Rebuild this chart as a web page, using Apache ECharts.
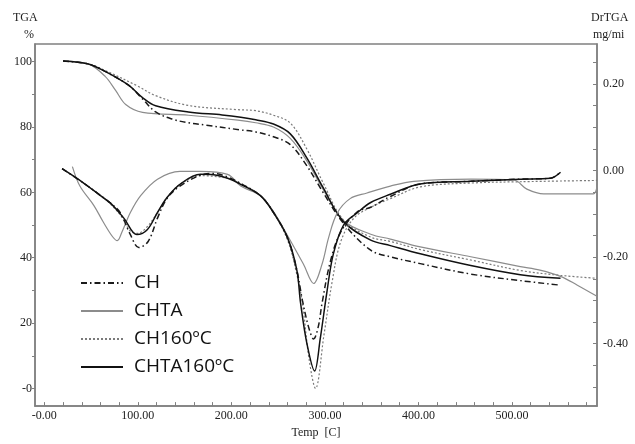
<!DOCTYPE html>
<html>
<head>
<meta charset="utf-8">
<script src="https://cdn.jsdelivr.net/npm/echarts@6/dist/echarts.min.js"></script>
<style>
html,body{margin:0;padding:0;background:#fff}
#chart{width:635px;height:444px}
</style>
</head>
<body>
<div id="chart"></div>
<script>
// Sample names
const nameCH = 'CH';
const nameCHTA = 'CHTA';
const nameCH160 = 'CH160ºC';
const nameCHTA160 = 'CHTA160ºC';

// Mass loss (TGA, %) against temperature (°C)
const tgaCH = [[20,100.2],[47,99.3],[65,97],[90,92.8],[105,88.6],[119,84.6],[137,82.4],[154,81.3],[172,80.6],[210,79.1],[226,78.5],[245,77],[263,74.6],[281,68],[298,60],[320,50.5],[349,42.3],[370,40.3],[402,38.2],[456,35],[509,33],[552,31.6]];
const tgaCHTA = [[20,100.2],[47,99.3],[65,95.5],[76,91.3],[87,86.9],[105,84.5],[154,83.6],[207,82.1],[226,81.3],[245,80],[263,76.5],[281,69.5],[298,61],[320,51.3],[349,47.2],[370,45.7],[402,43.3],[456,40.3],[509,37.3],[530,36.2],[552,34.3],[570,31.6],[591,28.2]];
const tgaCH160 = [[20,100.2],[47,99.3],[65,97.3],[100,92.5],[119,89.6],[154,86.6],[207,85.3],[226,85],[245,83.6],[263,81.2],[281,73.1],[298,63],[320,51.5],[349,46.3],[370,45],[402,42.5],[456,39.3],[509,36.1],[552,34.6],[591,33.7]];
const tgaCHTA160 = [[20,100.2],[47,99.3],[65,97],[90,92.8],[105,89],[119,86.5],[154,84.6],[190,83.7],[210,83],[226,82.2],[245,80.9],[263,77.9],[281,70.4],[298,61.5],[320,51],[349,45.4],[370,43.7],[402,41.2],[456,37.6],[509,34.8],[552,33.7]];

// Derivative curves (DrTGA, mg/min) against temperature (°C)
const dtgCH = [[19,0.004],[42,-0.029],[60,-0.058],[71,-0.076],[81,-0.097],[92,-0.148],[101,-0.178],[111,-0.164],[121,-0.11],[131,-0.065],[145,-0.036],[167,-0.011],[181,-0.007],[196,-0.015],[210,-0.03],[231,-0.058],[245,-0.097],[260,-0.155],[270,-0.23],[276,-0.3],[283,-0.365],[288,-0.389],[293,-0.36],[297,-0.306],[306,-0.209],[317,-0.142],[335,-0.095],[349,-0.085],[370,-0.06],[402,-0.031],[456,-0.025],[509,-0.02],[541,-0.018],[552,-0.004]];
const dtgCHTA = [[30,0.009],[38,-0.036],[53,-0.081],[63,-0.119],[73,-0.153],[78,-0.162],[83,-0.142],[92,-0.097],[103,-0.058],[121,-0.02],[145,-0.002],[167,-0.002],[196,-0.009],[210,-0.036],[231,-0.058],[245,-0.095],[260,-0.15],[277,-0.216],[288,-0.261],[297,-0.216],[304,-0.155],[313,-0.099],[327,-0.065],[345,-0.052],[370,-0.036],[395,-0.025],[456,-0.02],[502,-0.022],[516,-0.043],[534,-0.054],[587,-0.054],[591,-0.035]];
const dtgCH160 = [[19,0.004],[42,-0.029],[60,-0.058],[71,-0.078],[82,-0.105],[92,-0.14],[100,-0.145],[110,-0.13],[121,-0.097],[131,-0.063],[145,-0.032],[167,-0.012],[196,-0.018],[210,-0.03],[231,-0.058],[245,-0.097],[260,-0.16],[270,-0.24],[276,-0.306],[283,-0.434],[290,-0.503],[299,-0.38],[308,-0.254],[317,-0.164],[331,-0.11],[349,-0.085],[370,-0.065],[402,-0.038],[456,-0.029],[509,-0.026],[591,-0.023]];
const dtgCHTA160 = [[19,0.004],[42,-0.029],[60,-0.058],[71,-0.076],[85,-0.11],[99,-0.148],[110,-0.137],[121,-0.097],[131,-0.063],[145,-0.032],[167,-0.009],[181,-0.01],[196,-0.018],[210,-0.032],[231,-0.058],[245,-0.097],[260,-0.155],[270,-0.23],[274,-0.306],[281,-0.402],[289,-0.463],[295,-0.389],[302,-0.283],[309,-0.193],[320,-0.126],[335,-0.097],[349,-0.074],[370,-0.055],[402,-0.031],[456,-0.025],[509,-0.02],[541,-0.018],[552,-0.004]];

// Tick positions
const tempLabels = [0,100,200,300,400,500];
const tempTicks = [0,20,40,60,80,100,120,140,160,180,200,220,240,260,280,300,320,340,360,380,400,420,440,460,480,500,520,540,560,580];
const tgaLabels = [0,20,40,60,80,100];
const tgaTicks = [0,10,20,30,40,50,60,70,80,90,100];
const dtgLabels = [-0.4,-0.2,0,0.2];
const dtgTicks = [-0.5,-0.45,-0.4,-0.35,-0.3,-0.25,-0.2,-0.15,-0.1,-0.05,0,0.05,0.1,0.15,0.2,0.25];

const axisGrey = '#808080';
const serif = 'Liberation Serif';
const labelText = {fontFamily: serif, fontSize: 12, color: '#222'};

const styles = {
  [nameCH]:      {color: '#1a1a1a', width: 1.5, type: [6, 3, 1.5, 3]},
  [nameCHTA]:    {color: '#8c8c8c', width: 1.2, type: 'solid'},
  [nameCH160]:   {color: '#7a7a7a', width: 1.2, type: [2, 2]},
  [nameCHTA160]: {color: '#111111', width: 1.5, type: 'solid'}
};

function line(name, data, yAxisIndex) {
  return {
    name, type: 'line', data, yAxisIndex,
    smooth: 0.35, symbol: 'none', showSymbol: false,
    lineStyle: styles[name], itemStyle: {color: styles[name].color},
    animation: false
  };
}

const chart = echarts.init(document.getElementById('chart'), null, {renderer: 'canvas'});
chart.setOption({
  backgroundColor: '#fff',
  animation: false,
  grid: {left: 35, right: 38, top: 44, bottom: 28, show: true, borderColor: axisGrey, borderWidth: 1.5, containLabel: false},
  legend: {
    orient: 'vertical', left: 75, top: 268,
    data: [nameCH, nameCHTA, nameCH160, nameCHTA160],
    itemWidth: 42, itemHeight: 20, itemGap: 8,
    selectedMode: false,
    itemStyle: {opacity: 0},
    textStyle: {fontFamily: 'Open Sans', fontSize: 19, lineHeight: 20, color: '#111', padding: [0, 0, 0, 6]}
  },
  xAxis: {
    type: 'value', min: -10, max: 591,
    name: 'Temp  [C]', nameLocation: 'middle', nameGap: 17,
    nameTextStyle: labelText,
    axisLine: {show: true, onZero: false, lineStyle: {color: axisGrey, width: 1.5}},
    axisTick: {show: true, inside: true, length: 4, customValues: tempTicks, lineStyle: {color: axisGrey}},
    axisLabel: Object.assign({customValues: tempLabels, margin: 4, formatter: v => v === 0 ? '-0.00' : v.toFixed(2)}, labelText),
    splitLine: {show: false}
  },
  yAxis: [{
    type: 'value', min: -5.4, max: 105.4, position: 'left',
    axisLine: {show: true, onZero: false, lineStyle: {color: axisGrey, width: 1.5}},
    axisTick: {show: true, inside: false, length: 3, customValues: tgaTicks, lineStyle: {color: axisGrey}},
    axisLabel: Object.assign({customValues: tgaLabels, margin: 3, formatter: v => v === 0 ? '-0' : String(v)}, labelText),
    splitLine: {show: false}
  }, {
    type: 'value', min: -0.544, max: 0.292, position: 'right',
    axisLine: {show: true, onZero: false, lineStyle: {color: axisGrey, width: 1.5}},
    axisTick: {show: true, inside: true, length: 4, customValues: dtgTicks, lineStyle: {color: axisGrey}},
    axisLabel: Object.assign({customValues: dtgLabels, margin: 6, formatter: v => v.toFixed(2)}, labelText),
    splitLine: {show: false}
  }],
  graphic: [
    {type: 'text', left: 13, top: 12, style: {text: 'TGA', font: '12px ' + serif, fill: '#222'}},
    {type: 'text', left: 24, top: 29, style: {text: '%', font: '12px ' + serif, fill: '#222'}},
    {type: 'text', left: 591, top: 12, style: {text: 'DrTGA', font: '12px ' + serif, fill: '#222'}},
    {type: 'text', left: 593, top: 29, style: {text: 'mg/min', font: '12px ' + serif, fill: '#222', width: 35, overflow: 'truncate', ellipsis: ''}}
  ],
  series: [
    line(nameCH160, tgaCH160, 0),
    line(nameCHTA, tgaCHTA, 0),
    line(nameCH, tgaCH, 0),
    line(nameCHTA160, tgaCHTA160, 0),
    line(nameCH160, dtgCH160, 1),
    line(nameCHTA, dtgCHTA, 1),
    line(nameCH, dtgCH, 1),
    line(nameCHTA160, dtgCHTA160, 1)
  ]
});
</script>
</body>
</html>
